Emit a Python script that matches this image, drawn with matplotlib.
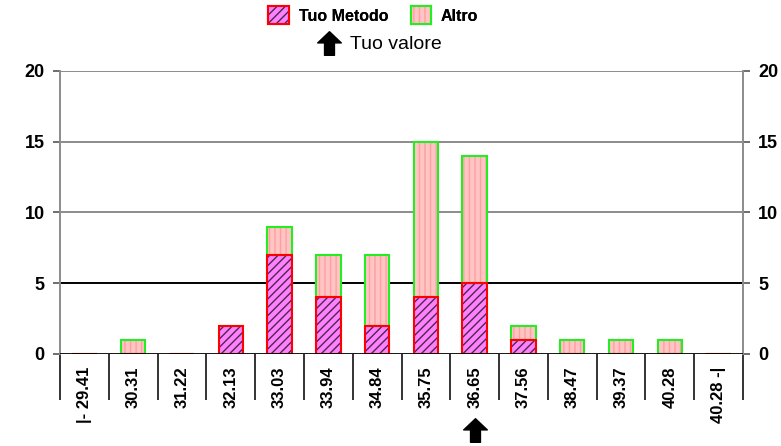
import matplotlib
matplotlib.use('Agg')
import matplotlib.pyplot as plt
from matplotlib.patches import Patch
from matplotlib.lines import Line2D
from matplotlib.path import Path
from matplotlib.legend_handler import HandlerTuple

plt.rcParams['font.family'] = ['Liberation Sans', 'DejaVu Sans']
plt.rcParams['hatch.linewidth'] = 1.0

# bins and counts
bins = ["|- 29.41", "30.31", "31.22", "32.13", "33.03", "33.94", "34.84",
        "35.75", "36.65", "37.56", "38.47", "39.37", "40.28", "40.28 -|"]
tuo_metodo = [0, 0, 0, 2, 7, 4, 2, 4, 5, 1, 0, 0, 0, 0]
altro = [0, 1, 0, 0, 2, 3, 5, 11, 9, 1, 1, 1, 1, 0]
tuo_valore_bin = "36.65"
y_ticks = [0, 5, 10, 15, 20]

metodo_fill, metodo_hatch, metodo_edge = '#FF80FF', '#4A2A4A', '#FF0000'
altro_fill, altro_hatch, altro_edge = '#FFC4C4', '#FFA0A0', '#22EE22'

# arrow glyph used for "Tuo valore"
arrow = Path([(0, 1), (1, 0.05), (0.42, 0.05), (0.42, -1), (-0.42, -1),
              (-0.42, 0.05), (-1, 0.05), (0, 1)], closed=True)

fig = plt.figure(figsize=(7.81, 4.46), dpi=100)
ax = fig.add_axes([60 / 781, 1 - 354 / 446, 683 / 781, 283 / 446])

x = list(range(len(bins)))
w = 0.5

# fill + hatch layer, then outline layer
ax.bar(x, tuo_metodo, w, color=metodo_fill, edgecolor=metodo_hatch,
       hatch='////', linewidth=0, zorder=3)
ax.bar(x, altro, w, bottom=tuo_metodo, color=altro_fill, edgecolor=altro_hatch,
       hatch='|||', linewidth=0, zorder=3)
ax.bar(x, altro, w, bottom=tuo_metodo, fill=False, edgecolor=altro_edge,
       linewidth=1.5, zorder=4)
ax.bar(x, tuo_metodo, w, fill=False, edgecolor=metodo_edge,
       linewidth=1.5, zorder=5)

ax.set_xlim(-0.5, len(bins) - 0.5)
ax.set_ylim(0, 20)

# horizontal grid
for yv in y_ticks[1:]:
    ax.axhline(yv, color='black' if yv == 5 else '#8C8C8C', lw=1.4, zorder=1)
ax.axhline(0, color='black', lw=2, zorder=6)

for s in ['top', 'bottom']:
    ax.spines[s].set_visible(False)
for s in ['left', 'right']:
    ax.spines[s].set_color('#8C8C8C')
    ax.spines[s].set_linewidth(1.4)

ax.set_yticks(y_ticks)
ax.tick_params(axis='y', which='major', left=True, right=True, labelleft=True,
               labelright=True, length=5, width=1.2, color='#555555',
               labelsize=13, pad=6)
for t in ax.yaxis.get_major_ticks():
    t.label1.set_fontweight('bold')
    t.label2.set_fontweight('bold')

ax.set_xticks(x)
ax.set_xticklabels(bins, rotation=90, fontsize=12, fontweight='bold')
ax.set_xticks([i - 0.5 for i in range(len(bins) + 1)], minor=True)
ax.tick_params(axis='x', which='major', length=0, pad=9)
ax.tick_params(axis='x', which='minor', length=33, width=1.4, color='#333333')

# arrow under the user's bin
ax.plot([bins.index(tuo_valore_bin)], [-0.27], marker=arrow, ms=17,
        color='black', transform=ax.get_xaxis_transform(), clip_on=False,
        linestyle='none')

h_met = (Patch(facecolor=metodo_fill, edgecolor=metodo_hatch, hatch='////', lw=0),
         Patch(fill=False, edgecolor=metodo_edge, lw=1.5))
h_alt = (Patch(facecolor=altro_fill, edgecolor=altro_hatch, hatch='|||', lw=0),
         Patch(fill=False, edgecolor=altro_edge, lw=1.5))
leg1 = fig.legend([h_met, h_alt], ['Tuo Metodo', 'Altro'], ncol=2,
                  loc='center', bbox_to_anchor=(0.478, 0.966), frameon=False,
                  handler_map={tuple: HandlerTuple(ndivide=1)},
                  prop={'weight': 'bold', 'size': 11.5}, handlelength=1.3,
                  handleheight=1.3, columnspacing=1.4, handletextpad=0.6)
fig.add_artist(leg1)
h_arrow = Line2D([], [], marker=arrow, ms=17, color='black', linestyle='none')
fig.legend([h_arrow], ['Tuo valore'], loc='center',
           bbox_to_anchor=(0.487, 0.9), frameon=False, prop={'size': 14},
           handlelength=1.0, handletextpad=0.6)

fig.savefig('out.png', dpi=100)
